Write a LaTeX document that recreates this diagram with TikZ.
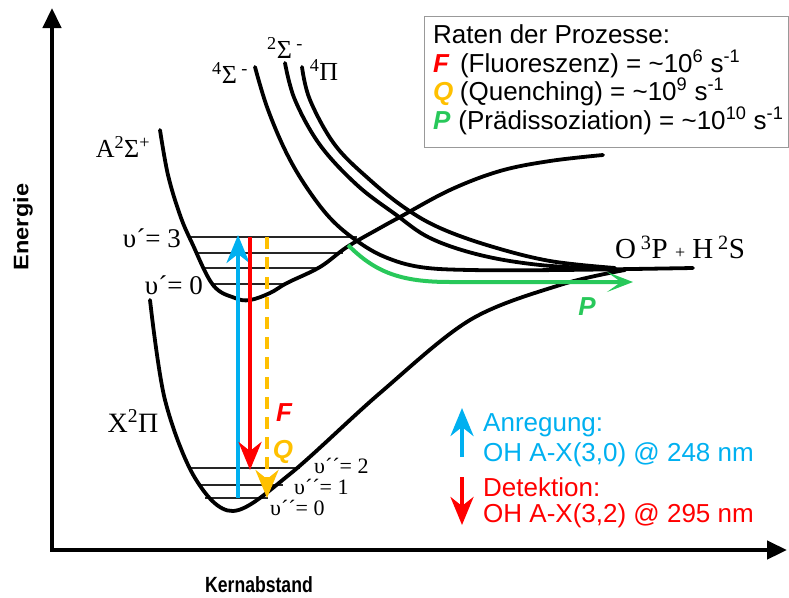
\documentclass[tikz,border=0pt]{standalone}
\usepackage{fontspec}
\setmainfont{Liberation Serif}
\setsansfont{Liberation Sans}
\usetikzlibrary{arrows.meta}

\definecolor{exccyan}{RGB}{0,176,240}
\definecolor{fluored}{RGB}{255,0,0}
\definecolor{quenchyel}{RGB}{255,192,0}
\definecolor{predgreen}{RGB}{40,200,90}
\newcommand{\fsz}[1]{\fontsize{#1}{#1}\selectfont}

\begin{document}
\begin{tikzpicture}[x=1pt, y=-1pt,
    axis/.style={line width=4.5pt, line join=miter,
                 {Triangle[length=20pt,width=18pt]}-{Triangle[length=20pt,width=18pt]}},
    pes/.style={line width=3.8pt, line cap=round},
    lvl/.style={line width=2pt, black!85},
    trans/.style={line width=4pt, -{Stealth[length=28pt,width=23pt,inset=9pt]}},
    axlabel/.style={font=\sffamily\bfseries, inner sep=0pt},
    vib/.style={font=\fsz{27pt}, inner sep=0pt},
    vibx/.style={font=\fsz{22pt}, inner sep=0pt, anchor=west},
    term/.style={font=\fsz{26pt}, inner sep=0pt},
    legtext/.style={font=\sffamily\fsz{26pt}, inner sep=0pt, anchor=base west},
    proc/.style={font=\sffamily\bfseries\itshape\fsz{26pt}, inner sep=0pt}]
  \useasboundingbox (0,0) rectangle (789,597);

  % axes
  \coordinate (origin) at (52,550);
  \coordinate (ytip) at (52,8);
  \coordinate (xtip) at (787,550);
  \draw[axis] (ytip) -- (origin) -- (xtip);
  \node[axlabel, rotate=90] (elab) at (23,227) {\fsz{21pt}\scalebox{1.12}[1]{Energie}};
  \node[axlabel] (klab) at (259,585) {\fsz{22pt}\scalebox{0.8}[1]{Kernabstand}};

  % vibrational levels
  \foreach \y/\xa/\xb in {237/190/357, 253/196/343, 268/203/320, 284/211/287}
    \draw[lvl] (\xa,\y) -- (\xb,\y);
  \foreach \y/\xa/\xb in {468/190/300, 485/198/283, 498/205/268}
    \draw[lvl] (\xa,\y) -- (\xb,\y);

  % potential curves
  \draw[pes] plot[smooth, tension=0.55] coordinates {(150,300) (165,400) (195,478)
    (233,511) (290,474) (380,393) (470,320) (560,285) (625,270)};
  \draw[pes] plot[smooth, tension=0.6] coordinates {(160,130) (168,175) (180,215)
    (192,243) (213,285) (235,298) (250,300) (270,293) (287,283) (320,267) (347,247)
    (380,228) (400,217) (450,190) (500,171) (550,161) (603,155)};
  \draw[pes] plot[smooth, tension=0.6] coordinates {(255,67) (267,107) (285,150)
    (305,185) (330,218) (357,241) (385,257) (420,267) (470,270) (560,270) (693,268)};
  \draw[pes] plot[smooth, tension=0.6] coordinates {(285,63) (295,100) (320,145)
    (357,185) (395,214) (430,238) (480,255) (540,265) (610,269)};
  \draw[pes] plot[smooth, tension=0.6] coordinates {(302,67) (310,100) (335,145)
    (370,180) (405,208) (440,228) (490,246) (550,261) (615,268)};

  % state labels
  \node[term] (astate) at (123,147) {A\textsuperscript{2}Σ\textsuperscript{+}};
  \node[term, font=\fsz{28pt}] (xstate) at (133,421) {X\textsuperscript{2}Π};
  \node[term] (s4m) at (230,73) {\textsuperscript{4}Σ\,\textsuperscript{-}};
  \node[term] (s2m) at (285,48) {\textsuperscript{2}Σ\,\textsuperscript{-}};
  \node[term] (p4) at (324,70) {\textsuperscript{4}Π};
  \node[term, font=\fsz{29pt}, anchor=west] (asym) at (615,247)
    {O\,\textsuperscript{3}P {\fsz{18pt}+} H\,\textsuperscript{2}S};

  \node[vib, anchor=east] (a3) at (181,238) {υ´= 3};
  \node[vib, anchor=east] (a0) at (203,285) {υ´= 0};
  \node[vibx] (x2) at (314,466) {υ´´= 2};
  \node[vibx] (x1) at (294,487) {υ´´= 1};
  \node[vibx] (x0) at (270,508) {υ´´= 0};

  % transitions
  \coordinate (exlo) at (238,498);
  \coordinate (exhi) at (238,235);
  \coordinate (flhi) at (250,237);
  \coordinate (fllo) at (250,470);
  \coordinate (qhi) at (267,237);
  \coordinate (qlo) at (267,498);
  \draw[trans, exccyan] (exlo) -- (exhi);
  \draw[trans, fluored] (flhi) -- (fllo);
  \draw[trans, quenchyel, dash pattern=on 12pt off 8pt] (qhi) -- (qlo);
  \node[proc, text=fluored] (flab) at (284,413) {F};
  \node[proc, text=quenchyel] (qlab) at (283,452) {Q};

  % predissociation
  \coordinate (pstart) at (348,245);
  \coordinate (pend) at (633,282);
  \draw[line width=4pt, predgreen, -{Stealth[length=26pt,width=20pt,inset=14pt]}]
    (pstart) .. controls (375,272) and (400,282) .. (450,282) -- (pend);
  \node[proc, text=predgreen] (plab) at (587,307) {P};

  % rates
  \node[draw=black!40, line width=1pt, minimum width=364pt, minimum height=131pt,
        inner sep=0pt] (rates) at (606,81.5) {};
  \node[legtext] (rhead) at (433,43) {Raten der Prozesse:};
  \node[legtext] (rf) at (433,72) {\textcolor{fluored}{\textbf{\textit{F}}}\hspace{0.4em}(Fluoreszenz) = \textasciitilde10\textsuperscript{6} s\textsuperscript{-1}};
  \node[legtext] (rq) at (433,100) {\textcolor{quenchyel}{\textbf{\textit{Q}}}\hspace{0.25em}(Quenching) = \textasciitilde10\textsuperscript{9} s\textsuperscript{-1}};
  \node[legtext] (rp) at (433,129) {\textcolor{predgreen}{\textbf{\textit{P}}}\hspace{0.3em}(Prädissoziation) = \textasciitilde10\textsuperscript{10} s\textsuperscript{-1}};

  % excitation / detection
  \coordinate (anrlo) at (462,457);
  \coordinate (anrhi) at (462,408);
  \coordinate (dethi) at (462,477);
  \coordinate (detlo) at (462,525);
  \draw[trans, exccyan] (anrlo) -- (anrhi);
  \draw[trans, fluored] (dethi) -- (detlo);
  \node[legtext, text=exccyan] (anr1) at (483,431) {Anregung:};
  \node[legtext, text=exccyan] (anr2) at (483,461) {OH A-X(3,0) @ 248 nm};
  \node[legtext, text=fluored] (det1) at (483,496) {Detektion:};
  \node[legtext, text=fluored] (det2) at (483,522) {OH A-X(3,2) @ 295 nm};
\end{tikzpicture}
\end{document}
